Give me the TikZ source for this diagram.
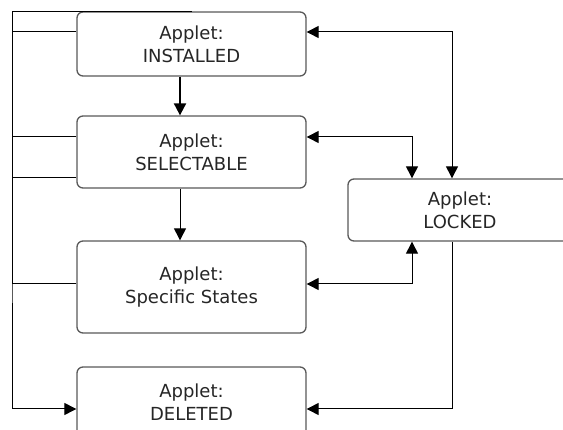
\documentclass[tikz,border=0pt]{standalone}
\usepackage{fontspec}
\setmainfont{DejaVu Sans}
\usetikzlibrary{arrows.meta, shapes.geometric}
\usetikzlibrary{positioning}
\tikzstyle{state} = [rectangle, rounded corners=6pt, draw=black!65, line width=1.3pt, fill=white, align=center, inner sep=0pt, minimum width=229pt, font=\fontsize{18}{23}\selectfont, text=black!85]
\tikzstyle{arrow} = [line width=1pt, -{Triangle[length=12pt,width=12pt]}]
\tikzstyle{both} = [line width=1pt, {Triangle[length=12pt,width=12pt]}-{Triangle[length=12pt,width=12pt]}]
\tikzstyle{link} = [line width=1pt, -]

\begin{document}
\begin{tikzpicture}[x=1pt, y=-1pt]
    \useasboundingbox (0,0) rectangle (563,430);
    \node [state, minimum height=64pt] (installed) at (191.5,44) {Applet:\\INSTALLED};
    \node [state, minimum height=72pt] (selectable) at (191.5,152) {Applet:\\SELECTABLE};
    \node [state, minimum height=92pt] (specific) at (191.5,287) {Applet:\\Specific States};
    \node [state, minimum height=70pt] (deleted) at (191.5,402) {Applet:\\DELETED};
    \node [state, minimum height=62pt, minimum width=224pt] (locked) at (460,210) {Applet:\\LOCKED};
    \coordinate (mid) at (180,0);
    \coordinate (bus) at (12,200);
    % down the chain
    \draw [arrow, line width=2pt] (installed.south -| mid) -- (selectable.north -| mid);
    \draw [arrow] (selectable.south -| mid) -- (specific.north -| mid);
    % left bus to deleted
    \draw [arrow] (installed.north) -| (bus) |- ([yshift=-7pt]deleted.west);
    \draw [link] ([yshift=12pt]installed.west) -| (bus);
    \draw [link] ([yshift=15pt]selectable.west) -| (bus);
    \draw [link] ([yshift=-26pt]selectable.west) -| (bus);
    \draw [link] ([yshift=3pt]specific.west) -| (bus);
    % locked
    \draw [both] ([yshift=12pt]installed.east) -| ([xshift=-8pt]locked.north);
    \draw [both] ([yshift=15pt]selectable.east) -| ([xshift=-48pt]locked.north);
    \draw [both] ([yshift=3pt]specific.east) -| ([xshift=-48pt]locked.south);
    \draw [arrow] ([xshift=-8pt]locked.south) |- ([yshift=-7pt]deleted.east);
\end{tikzpicture}
\end{document}
